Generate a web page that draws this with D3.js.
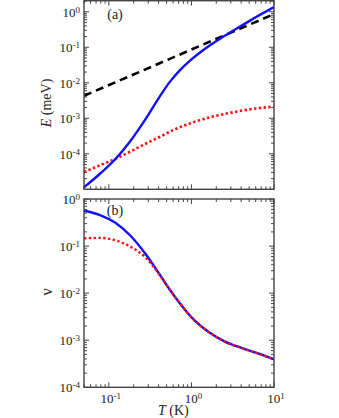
<!DOCTYPE html>
<html>
<head>
<meta charset="utf-8">
<script src="https://cdn.jsdelivr.net/npm/d3@7"></script>
<style>
  body { margin: 0; background: #fff; }
  svg { display: block; }
  svg text { font-family: "Liberation Serif", "Times New Roman", Times, "Nimbus Roman", "DejaVu Serif", serif; }
</style>
</head>
<body>
<div id="chart"></div>
<script>
// panel (a): solid blue energy (meV) against temperature (K)
const tempBlueA = [0.05, 0.0781, 0.1187, 0.1804, 0.2818, 0.4164, 0.5501, 0.7272, 0.9609, 1.27, 1.679, 2.219, 2.933, 3.876, 5.122, 10];
const energyBlue = [1.14e-5, 2.74e-5, 6.89e-5, 2.21e-4, 9.9e-4, 4.22e-3, 0.01077, 0.02266, 0.04188, 0.0712, 0.1135, 0.1738, 0.2596, 0.3827, 0.564, 1.35];
// panel (a): dotted red energy (meV)
const tempRedA = [0.05, 0.0781, 0.1187, 0.1804, 0.2897, 0.4164, 0.6326, 1.016, 1.679, 2.773, 4.454, 10];
const energyRed = [3.08e-5, 4.75e-5, 7.14e-5, 1.14e-4, 2.01e-4, 3.02e-4, 4.91e-4, 7.48e-4, 1.067e-3, 1.38e-3, 1.70e-3, 2.14e-3];
// panel (a): dashed black, k_B T
const tempLine = [0.05, 10];
const energyLine = [0.0043, 0.862];

// panel (b): nu against temperature (K)
const tempB = [0.05, 0.0781, 0.1187, 0.1804, 0.274, 0.4164, 0.5501, 0.7272, 1.016, 1.588, 2.551, 4.098, 6.402, 10];
const nuBlue = [0.564, 0.457, 0.317, 0.170, 0.0705, 0.02434, 0.01169, 6.04e-3, 2.99e-3, 1.537e-3, 9.34e-4, 6.80e-4, 5.24e-4, 3.93e-4];
const nuRed = [0.1464, 0.1493, 0.1334, 0.0981, 0.0587, 0.02375, 0.01169, 6.04e-3, 2.99e-3, 1.537e-3, 9.34e-4, 6.80e-4, 5.24e-4, 3.93e-4];

const xTicks = [0.1, 1, 10];
const xTickExp = ["-1", "0", "1"];
const yTicksA = [1e-4, 1e-3, 1e-2, 1e-1, 1];
const yTicksAExp = ["-4", "-3", "-2", "-1", "0"];
const yTicksB = [1e-4, 1e-3, 1e-2, 1e-1, 1];
const yTicksBExp = ["-4", "-3", "-2", "-1", "0"];

const width = 339, height = 418;
const left = 84, right = 274;
const blue = "#1010ff", red = "#ff1010";

const svg = d3.select("#chart").append("svg")
  .attr("width", width)
  .attr("height", height);

const x = d3.scaleLog().domain([0.05, 10]).range([left, right]);

// minor tick values for a log domain
function logMinors(lo, hi) {
  const out = [];
  for (let e = Math.floor(Math.log10(lo)); e <= Math.ceil(Math.log10(hi)); e++) {
    for (let m = 1; m < 10; m++) {
      const v = m * Math.pow(10, e);
      if (v >= lo * 0.999 && v <= hi * 1.001) out.push(v);
    }
  }
  return out;
}

function tickLabel(t, exp) {
  t.text("10").append("tspan")
    .attr("dy", "-0.45em")
    .style("font-size", "9px")
    .text(exp);
}

function drawPanel(opt) {
  const y = d3.scaleLog().domain(opt.yDomain).range([opt.bottom, opt.top]);
  const g = svg.append("g");
  const xs = logMinors(0.05, 10);
  const ys = logMinors(opt.yDomain[0], opt.yDomain[1]);
  const isMajor = v => Math.abs(Math.log10(v) - Math.round(Math.log10(v))) < 1e-6;

  // ticks on all four sides, pointing in
  xs.forEach(v => {
    const len = isMajor(v) ? 5 : 3;
    g.append("line").attr("x1", x(v)).attr("x2", x(v)).attr("y1", opt.bottom).attr("y2", opt.bottom - len)
      .attr("stroke", "#444").attr("stroke-width", 1);
    g.append("line").attr("x1", x(v)).attr("x2", x(v)).attr("y1", opt.top).attr("y2", opt.top + len)
      .attr("stroke", "#444").attr("stroke-width", 1);
  });
  ys.forEach(v => {
    const len = isMajor(v) ? 5 : 3;
    g.append("line").attr("x1", left).attr("x2", left + len).attr("y1", y(v)).attr("y2", y(v))
      .attr("stroke", "#444").attr("stroke-width", 1);
    g.append("line").attr("x1", right).attr("x2", right - len).attr("y1", y(v)).attr("y2", y(v))
      .attr("stroke", "#444").attr("stroke-width", 1);
  });

  // y tick labels
  opt.yTicks.forEach((v, i) => {
    const t = g.append("text")
      .attr("x", left - 4).attr("y", y(v) + 5)
      .attr("text-anchor", "end")
      .attr("fill", "#222")
      .style("font-size", "13px");
    tickLabel(t, opt.yExp[i]);
  });

  const line = d3.line()
    .x(d => x(d[0]))
    .y(d => y(d[1]))
    .curve(d3.curveMonotoneX);

  const clip = "clip" + opt.name;
  svg.append("clipPath").attr("id", clip).append("rect")
    .attr("x", left).attr("y", opt.top).attr("width", right - left).attr("height", opt.bottom - opt.top);

  const plot = g.append("g").attr("clip-path", `url(#${clip})`);
  opt.series.forEach(s => {
    plot.append("path")
      .datum(d3.zip(s.t, s.v))
      .attr("d", line)
      .attr("fill", "none")
      .attr("stroke", s.color)
      .attr("stroke-width", s.width)
      .attr("stroke-dasharray", s.dash || null);
  });

  g.append("rect")
    .attr("x", left).attr("y", opt.top)
    .attr("width", right - left).attr("height", opt.bottom - opt.top)
    .attr("fill", "none").attr("stroke", "#444").attr("stroke-width", 1.4);

  g.append("text")
    .attr("x", 115).attr("y", opt.top + opt.tagY)
    .attr("text-anchor", "middle")
    .attr("fill", "#222")
    .style("font-size", "14px")
    .text(opt.tag);
  return y;
}

drawPanel({
  name: "a", top: 0.7, bottom: 189.3, yDomain: [1e-5, 2.05],
  yTicks: yTicksA, yExp: yTicksAExp, tag: "(a)", tagY: 18,
  series: [
    { t: tempLine, v: energyLine, color: "#000", width: 2.6, dash: "8,5" },
    { t: tempRedA, v: energyRed, color: red, width: 2.6, dash: "2.4,2.4" },
    { t: tempBlueA, v: energyBlue, color: blue, width: 2.4 }
  ]
});

drawPanel({
  name: "b", top: 199, bottom: 387.3, yDomain: [1e-4, 1],
  yTicks: yTicksB, yExp: yTicksBExp, tag: "(b)", tagY: 16,
  series: [
    { t: tempB, v: nuBlue, color: blue, width: 2.4 },
    { t: tempB, v: nuRed, color: red, width: 2.4, dash: "2.4,2.4" }
  ]
});

// x tick labels on the bottom panel only
xTicks.forEach((v, i) => {
  const t = svg.append("text")
    .attr("x", x(v) + 2).attr("y", 403)
    .attr("text-anchor", "middle")
    .attr("fill", "#222")
    .style("font-size", "13px");
  tickLabel(t, xTickExp[i]);
});

// axis titles
svg.append("text")
  .attr("x", x(1) - 18).attr("y", 415)
  .attr("text-anchor", "middle")
  .attr("fill", "#222")
  .style("font-size", "14px")
  .html('<tspan font-style="italic">T</tspan> (K)');

svg.append("text")
  .attr("transform", "translate(51,103) rotate(-90)")
  .attr("text-anchor", "middle")
  .attr("fill", "#222")
  .style("font-size", "14px")
  .html('<tspan font-style="italic">E</tspan> (meV)');

svg.append("text")
  .attr("transform", "translate(52,292) rotate(-90)")
  .attr("text-anchor", "middle")
  .attr("fill", "#222")
  .style("font-size", "16px")
  .text("ν");
</script>
</body>
</html>
